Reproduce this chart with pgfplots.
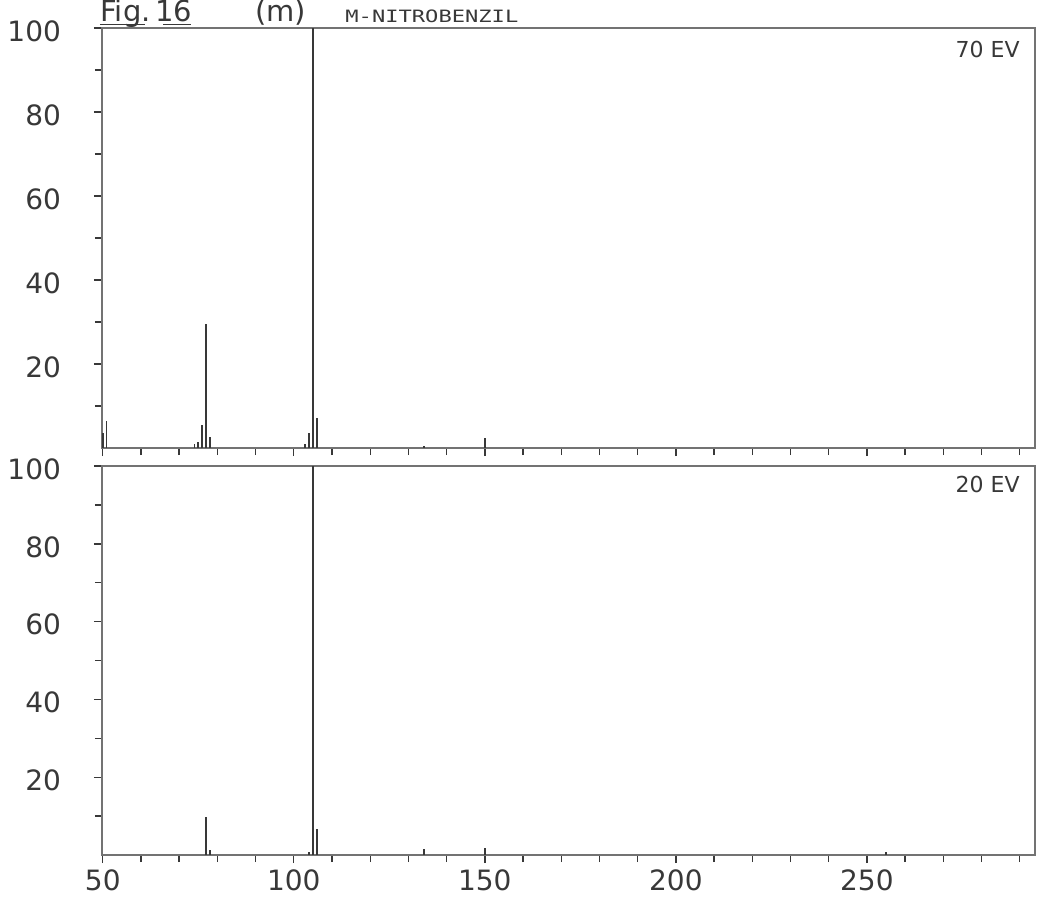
\documentclass[border=0pt]{standalone}
\usepackage{pgfplots}
\pgfplotsset{compat=1.18}
\usepackage{fontspec}
\setmainfont{DejaVu Sans}
\newfontfamily\plotmono[FakeStretch=1.3]{DejaVu Sans Mono}
\definecolor{ink}{gray}{0.22}
\definecolor{framec}{gray}{0.45}
\begin{document}
\begin{tikzpicture}[x=1pt,y=1pt]
\useasboundingbox (-51pt,14pt) rectangle (468pt,-436.5pt);
\pgfplotsset{
  msaxis/.style={
    scale only axis, width=466.5pt,
    xmin=49.8, xmax=294,
    ymin=0, ymax=100,
    axis line style={framec, line width=0.9pt},
    xtick={50,100,150,200,250},
    minor xtick={60,70,80,90,110,120,130,140,160,170,180,190,210,220,230,240,260,270,280,290},
    ytick={20,40,60,80,100},
    minor ytick={10,30,50,70,90},
    tick align=outside,
    xtick pos=bottom, ytick pos=left,
    major tick length=4pt, minor tick length=3.5pt,
    tick style={ink, line width=0.7pt},
    ticklabel style={font=\fontsize{14}{16}\selectfont, text=ink},
    yticklabel style={xshift=-13pt, yshift=-1.5pt},
    /pgf/number format/assume math mode=true,
    clip=false,
  }
}
\begin{axis}[msaxis, at={(0pt,0pt)}, anchor=north west, height=210pt, xticklabels={}]
\addplot[ycomb, ink, line width=0.8pt] coordinates {
(50,3.5) (51,6.5) (74,1.0) (75,1.5) (76,5.5) (77,29.5) (78,2.7)
(103,1.0) (104,3.6) (105,100) (106,7.2) (134,0.5) (150,2.4)
};
\end{axis}
\begin{axis}[msaxis, at={(0pt,-219pt)}, anchor=north west, height=194.5pt]
\addplot[ycomb, ink, line width=0.8pt] coordinates {
(77,9.8) (78,1.2) (104,0.7) (105,100) (106,6.8) (134,1.5) (150,1.7) (255,0.7)
};
\end{axis}
% titles
\node[anchor=base west, inner sep=0pt, text=ink, font=\fontsize{14.5}{17}\selectfont] (fig) at (-1pt,3.2pt) {Fig.\,16};
\draw[ink, line width=0.7pt] (-1pt,1.8pt) -- (21.5pt,1.8pt);
\draw[ink, line width=0.7pt] (30.5pt,1.8pt) -- (44.5pt,1.8pt);
\node[anchor=base west, inner sep=0pt, text=ink, font=\fontsize{14.5}{17}\selectfont] at (76.5pt,3.2pt) {(m)};
\node[anchor=base west, inner sep=0pt, text=ink, font=\plotmono\fontsize{8.5}{10}\selectfont] at (121.5pt,3pt) {M-NITROBENZIL};
\node[anchor=east, inner sep=0pt, text=ink, font=\fontsize{11}{13}\selectfont] at (459pt,-10.5pt) {70 EV};
\node[anchor=east, inner sep=0pt, text=ink, font=\fontsize{11}{13}\selectfont] at (459pt,-228pt) {20 EV};
\end{tikzpicture}
\end{document}
